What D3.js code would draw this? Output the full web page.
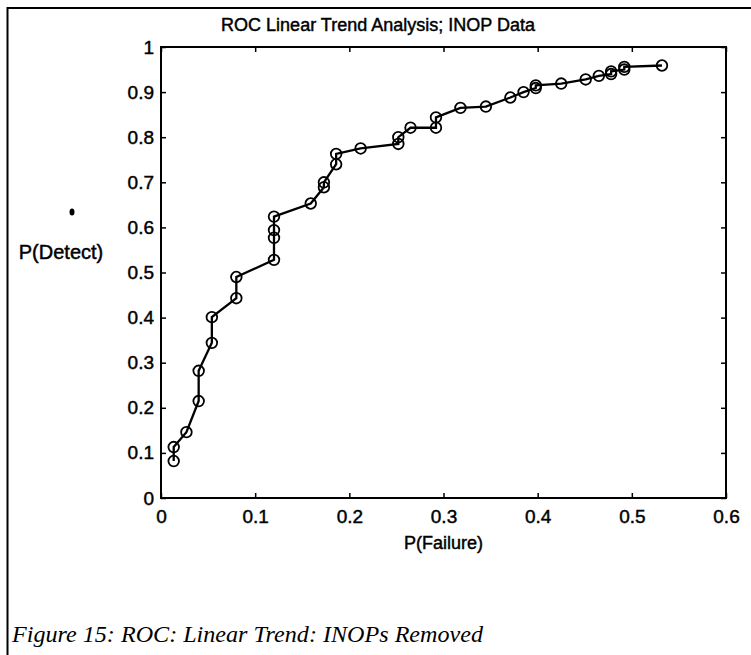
<!DOCTYPE html>
<html>
<head>
<meta charset="utf-8">
<script src="https://cdn.jsdelivr.net/npm/d3@7"></script>
<style>
  body { margin: 0; background: #fff; }
  text { font-family: "Liberation Sans", Arial, sans-serif; fill: #000; stroke: #000; stroke-width: 0.45px; }
</style>
</head>
<body>
<div id="roc_plot"></div>
<script>
// ROC points (in the order the line visits them)
var pFailure = [0.0135, 0.0135, 0.027, 0.040, 0.040, 0.054, 0.054, 0.080, 0.080,
  0.120, 0.120, 0.120, 0.120, 0.159, 0.173, 0.173, 0.186, 0.186, 0.212,
  0.252, 0.252, 0.265, 0.292, 0.292, 0.318, 0.345, 0.371, 0.385, 0.398, 0.398,
  0.425, 0.451, 0.465, 0.478, 0.478, 0.492, 0.492, 0.532];
var pDetect = [0.082, 0.113, 0.146, 0.215, 0.282, 0.344, 0.401, 0.443, 0.490,
  0.528, 0.577, 0.594, 0.624, 0.653, 0.689, 0.700, 0.740, 0.763, 0.775,
  0.785, 0.800, 0.821, 0.821, 0.844, 0.865, 0.868, 0.888, 0.900, 0.909, 0.915,
  0.919, 0.928, 0.936, 0.940, 0.946, 0.950, 0.956, 0.959];

var xTicks = [0, 0.1, 0.2, 0.3, 0.4, 0.5, 0.6];
var yTicks = [0, 0.1, 0.2, 0.3, 0.4, 0.5, 0.6, 0.7, 0.8, 0.9, 1];

var titleText = "ROC Linear Trend Analysis; INOP Data";
var xLabel = "P(Failure)";
var yLabel = "P(Detect)";
var caption = "Figure 15: ROC: Linear Trend: INOPs Removed";

var data = pFailure.map(function(f, i) { return {x: f, y: pDetect[i]}; });

// page + plot box
var W = 751, H = 655;
var margin = {top: 47, right: 25, bottom: 157, left: 161},
    width = W - margin.left - margin.right,
    height = H - margin.top - margin.bottom;

var root = d3.select("#roc_plot")
  .append("svg")
    .attr("width", W)
    .attr("height", H);

// frame of the scanned figure (left + top edges only are visible)
root.append("line")
  .attr("x1", 7.5).attr("x2", 7.5).attr("y1", 7).attr("y2", H)
  .attr("stroke", "#000").attr("stroke-width", 2);
root.append("line")
  .attr("x1", 7).attr("x2", W).attr("y1", 8).attr("y2", 8)
  .attr("stroke", "#000").attr("stroke-width", 2);

root.append("text")
  .attr("x", 378).attr("y", 31)
  .attr("text-anchor", "middle")
  .style("font-size", "18px")
  .text(titleText);

root.append("text")
  .attr("x", 12).attr("y", 642)
  .attr("textLength", 471)
  .attr("lengthAdjust", "spacingAndGlyphs")
  .style("font-family", "'Liberation Serif', 'Times New Roman', serif")
  .style("font-style", "italic")
  .style("font-size", "23px")
  .style("stroke-width", "0px")
  .text(caption);

var svg = root.append("g")
  .attr("transform", "translate(" + margin.left + "," + margin.top + ")");

var x = d3.scaleLinear().domain([0, 0.6]).range([0, width]);
var y = d3.scaleLinear().domain([0, 1]).range([height, 0]);
var fmt = d3.format("~g");

// axes, ticks pointing inward like matlab
svg.append("g")
  .attr("class", "axis")
  .attr("transform", "translate(0," + height + ")")
  .call(d3.axisBottom(x).tickValues(xTicks).tickFormat(fmt).tickSizeInner(-5).tickSizeOuter(0).tickPadding(12));
svg.append("g")
  .attr("class", "axis")
  .call(d3.axisTop(x).tickValues(xTicks).tickFormat("").tickSizeInner(-5).tickSizeOuter(0));
svg.append("g")
  .attr("class", "axis")
  .call(d3.axisLeft(y).tickValues(yTicks).tickFormat(fmt).tickSizeInner(-5).tickSizeOuter(0).tickPadding(7));
svg.append("g")
  .attr("class", "axis")
  .attr("transform", "translate(" + width + ",0)")
  .call(d3.axisRight(y).tickValues(yTicks).tickFormat("").tickSizeInner(-5).tickSizeOuter(0));

svg.selectAll(".axis .domain").remove();
svg.selectAll(".axis line").attr("stroke", "#000").attr("stroke-width", 1.5);
svg.selectAll(".axis text")
  .attr("fill", "#000")
  .style("font-size", "19px")
  .style("font-family", "'Liberation Sans', Arial, sans-serif");

svg.append("rect")
  .attr("width", width).attr("height", height)
  .attr("fill", "none").attr("stroke", "#000").attr("stroke-width", 2);

// axis labels
root.append("text")
  .attr("x", margin.left + width / 2).attr("y", 549)
  .attr("text-anchor", "middle")
  .style("font-size", "18px")
  .text(xLabel);
root.append("text")
  .attr("x", 61).attr("y", 259)
  .attr("text-anchor", "middle")
  .style("font-size", "20px")
  .text(yLabel);
// stray blob above the y label in the scan
root.append("ellipse")
  .attr("cx", 72).attr("cy", 212).attr("rx", 2.5).attr("ry", 3.5)
  .attr("fill", "#000");

// the ROC curve
svg.append("path")
  .datum(data)
  .attr("fill", "none")
  .attr("stroke", "#000")
  .attr("stroke-width", 2.3)
  .attr("d", d3.line().x(function(d) { return x(d.x); }).y(function(d) { return y(d.y); }));

svg.append("g")
  .selectAll("circle")
  .data(data)
  .join("circle")
    .attr("cx", function(d) { return x(d.x); })
    .attr("cy", function(d) { return y(d.y); })
    .attr("r", 5.3)
    .attr("fill", "none")
    .attr("stroke", "#000")
    .attr("stroke-width", 1.8);
</script>
</body>
</html>
